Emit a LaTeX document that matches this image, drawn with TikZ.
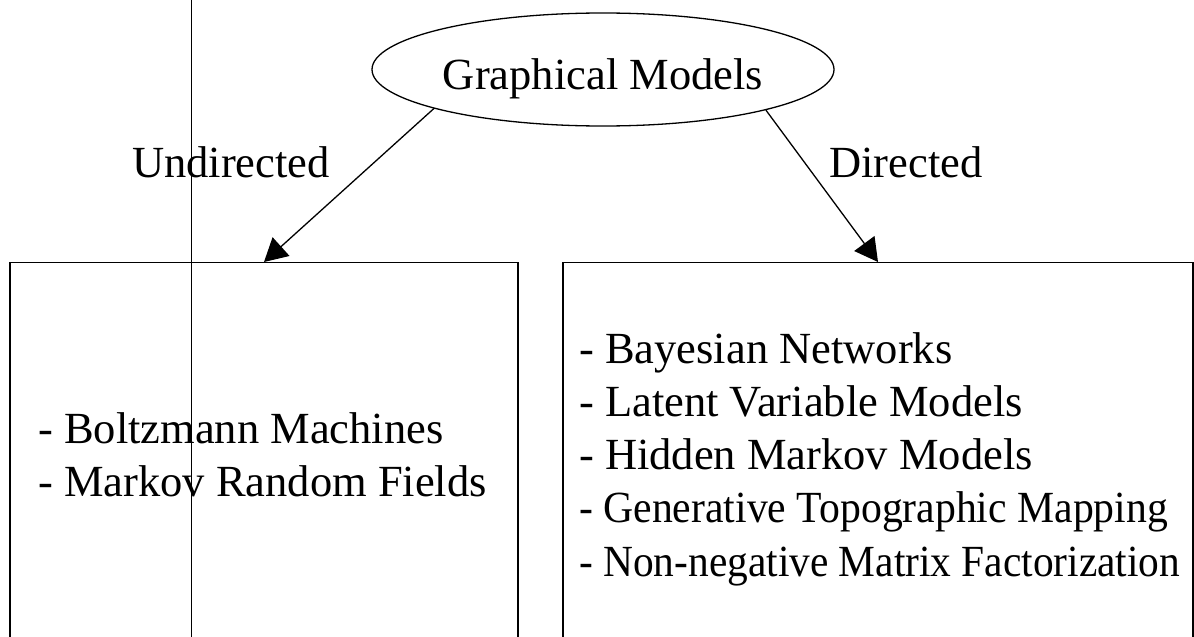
\documentclass[tikz,border=0pt]{standalone}
\usepackage{fontspec}
\setmainfont{Liberation Serif}
\usetikzlibrary{shapes.geometric,arrows.meta}
\begin{document}
\begin{tikzpicture}[x=1pt,y=-1pt,
  txt/.style={font=\fontsize{44.5}{53}\selectfont,inner sep=0pt},
  item/.style={txt,anchor=base west},
  frame/.style={draw,line width=1.4pt,inner sep=0pt,anchor=north,minimum height=480pt},
  edge/.style={line width=1.3pt,-{Triangle[length=23pt,width=25pt]}}]
\useasboundingbox (0,0) rectangle (1194,637);
\clip (0,0) rectangle (1194,637);
% thin vertical rule crossing the whole figure
\coordinate (vtop) at (191,0);
\coordinate (vbot) at (191,637);
\draw[line width=1pt] (vtop) -- (vbot);
% root ellipse and its title
\node[ellipse,draw,line width=1.3pt,inner sep=0pt,minimum width=462pt,minimum height=113pt] (gm) at (603,69.5) {};
\node[txt,anchor=base] (gmtext) at (603,89) {Graphical Models};
% the two category boxes (open at the bottom edge)
\node[frame,minimum width=508pt] (und) at (264,262) {};
\node[frame,minimum width=630pt] (dir) at (878,262) {};
% contents of the undirected box
\node[item] (u1) at (38,443) {- Boltzmann Machines};
\node[item] (u2) at (38,496) {- Markov Random Fields};
% contents of the directed box
\node[item] (d1) at (579,363) {- Bayesian Networks};
\node[item] (d2) at (579,416) {- Latent Variable Models};
\node[item] (d3) at (579,469) {- Hidden Markov Models};
\node[item] (d4) at (579,522) {\scalebox{0.937}[1]{- Generative Topographic Mapping}};
\node[item] (d5) at (579,576) {\scalebox{0.93}[1]{- Non-negative Matrix Factorization}};
% connectors and their labels
\draw[edge] (gm.193.5) -- (und.north);
\draw[edge] (gm.346) -- (dir.north);
\node[txt,anchor=base] (ulab) at (231,177) {Undirected};
\node[txt,anchor=base] (dlab) at (906,177) {Directed};
\end{tikzpicture}
\end{document}
